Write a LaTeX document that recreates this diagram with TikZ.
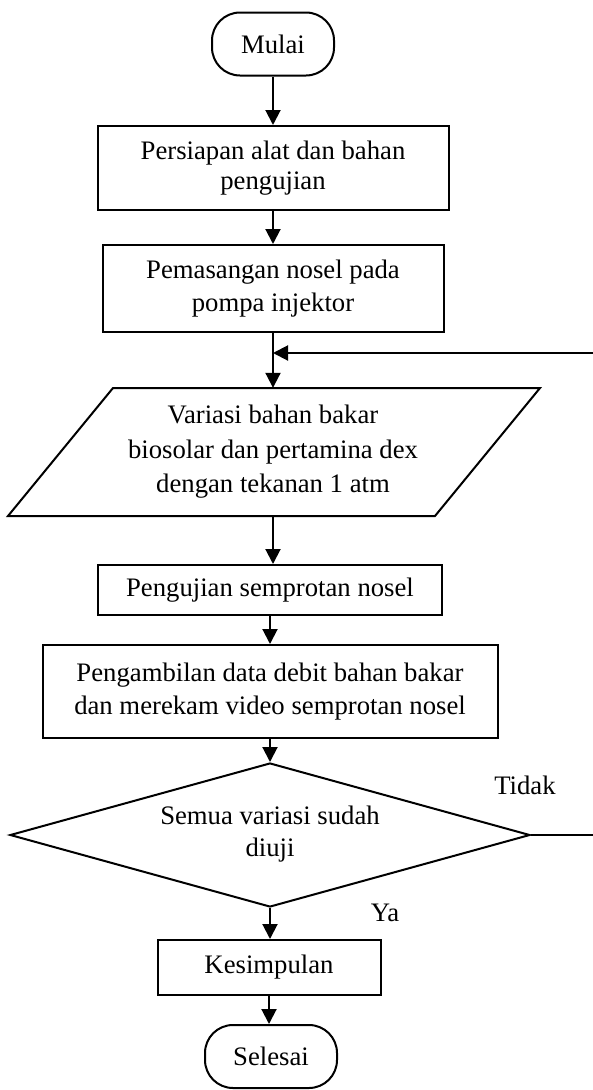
\documentclass[tikz,border=0pt]{standalone}
\usepackage{fontspec}
\setmainfont{Liberation Serif}
\usetikzlibrary{arrows.meta,shapes.geometric}
\begin{document}
\begin{tikzpicture}[x=1pt,y=-1pt,
  every node/.style={font=\fontsize{26.7}{32.5}\selectfont, align=center, inner sep=0pt},
  line/.style={line width=2pt},
  flow/.style={line width=2pt, -{Triangle[width=15pt,length=15pt]}},
  proc/.style={draw, line width=2pt, minimum width=#1},
  term/.style={draw, line width=2pt, rounded corners=28pt, minimum width=#1, minimum height=63pt},
  dec/.style={draw, line width=2pt, diamond, aspect=3.6, minimum width=520pt, minimum height=144pt, inner sep=0pt}
]
\useasboundingbox (0,0) rectangle (593,1090);

\node[term=122pt] (mulai) at (273,44) {Mulai};
\node[proc=351pt, minimum height=84pt] (b1) at (273,168) {Persiapan alat dan bahan\\[-2pt]pengujian};
\node[proc=341pt, minimum height=87pt] (b2) at (273,288.5) {Pemasangan nosel pada\\pompa injektor};

% parallelogram
\draw[line] (113,388) -- (540,388) -- (435,516) -- (8,516) -- cycle;
\node[minimum width=300pt, minimum height=128pt] (par) at (273,452) {Variasi bahan bakar\\[2pt]biosolar dan pertamina dex\\[2pt]dengan tekanan 1 atm};

\node[proc=344pt, minimum height=50pt] (b3) at (270,590) {Pengujian semprotan nosel};
\node[proc=455pt, minimum height=93pt] (b4) at (270,691.5) {Pengambilan data debit bahan bakar\\dan merekam video semprotan nosel};
\node[dec] (dia) at (270,835) {};
\node at (270,834) {Semua variasi sudah\\diuji};
\node[proc=223pt, minimum height=55pt] (kes) at (269,967.5) {Kesimpulan};
\node[term=132pt] (sel) at (271,1056.5) {Selesai};

\node (tidak) at (525,785) {Tidak};
\node (ya) at (385,913) {Ya};

\coordinate (fb) at (273,353);

\draw[flow] (mulai.south) -- (mulai.south |- b1.north);
\draw[flow] (b1.south) -- (b1.south |- b2.north);
\draw[flow] (b2.south) -- (b2.south |- par.north);
\draw[flow] (par.south) -- (par.south |- b3.north);
\draw[flow] (b3.south) -- (b3.south |- b4.north);
\draw[flow] (b4.south) -- (b4.south |- dia.north);
\draw[flow] (dia.south) -- (dia.south |- kes.north);
\draw[flow] (kes.south) -- (kes.south |- sel.north);
\draw[flow] (dia.east) -- (597,835) |- (fb);
\end{tikzpicture}
\end{document}
